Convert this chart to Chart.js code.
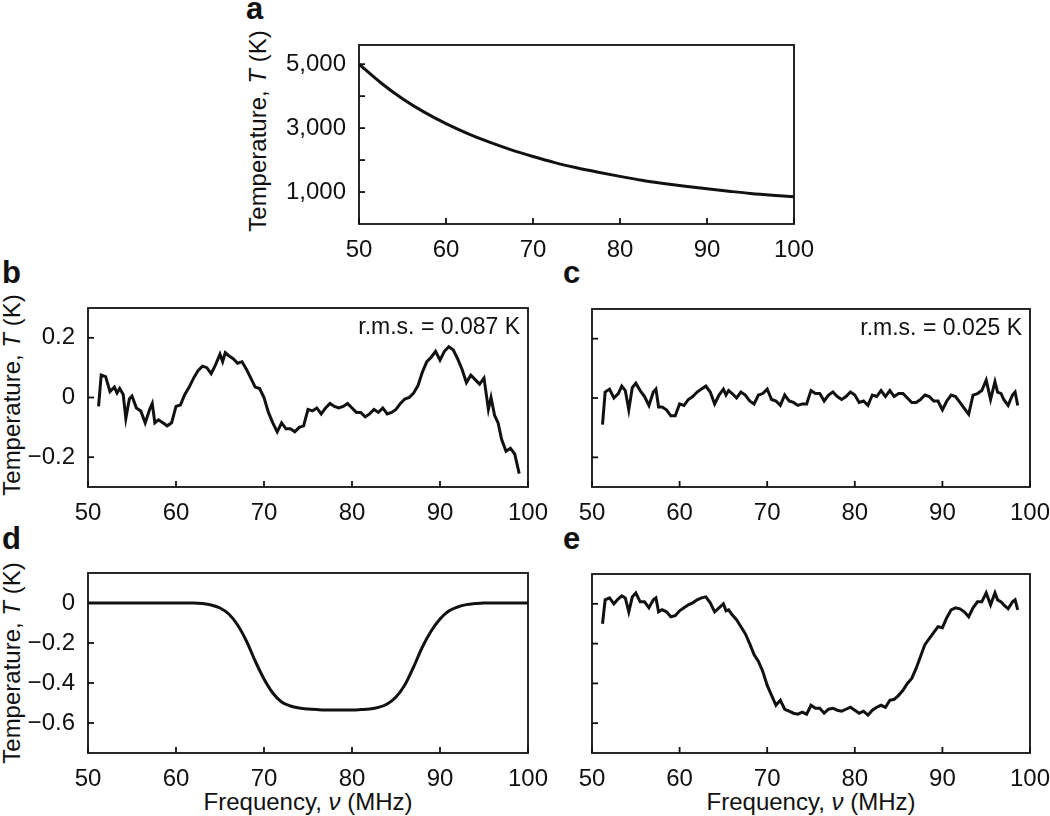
<!DOCTYPE html>
<html>
<head>
<meta charset="utf-8">
<script src="https://cdn.jsdelivr.net/npm/chart.js@4.4.1/dist/chart.umd.min.js"></script>
<style>
  body { margin: 0; background: #fff; width: 1050px; height: 816px; position: relative; overflow: hidden;
         font-family: "Liberation Sans", Arial, sans-serif; color: #111; }
  .box { position: absolute; }
  .letter { position: absolute; font-weight: bold; font-size: 31px; }
  .ytitle { position: absolute; font-size: 24px; line-height: 28px; height: 28px; width: 220px; text-align: center;
            white-space: nowrap; transform: rotate(-90deg); transform-origin: center; }
  .xtitle { position: absolute; font-size: 24px; line-height: 28px; width: 300px; text-align: center; white-space: nowrap; }
</style>
</head>
<body>
<div class="letter" style="left:246px;top:-9px;">a</div>
<div class="letter" style="left:2px;top:255px;">b</div>
<div class="letter" style="left:563px;top:255px;">c</div>
<div class="letter" style="left:2px;top:521px;">d</div>
<div class="letter" style="left:563px;top:521px;">e</div>

<div class="ytitle" style="left:148px;top:117px;">Temperature, <i>T</i> (K)</div>
<div class="ytitle" style="left:-98px;top:381px;">Temperature, <i>T</i> (K)</div>
<div class="ytitle" style="left:-98px;top:649px;">Temperature, <i>T</i> (K)</div>
<div class="xtitle" style="left:158px;top:788px;">Frequency, <i>ν</i> (MHz)</div>
<div class="xtitle" style="left:661px;top:788px;">Frequency, <i>ν</i> (MHz)</div>

<div class="box" style="left:230px;top:0px;width:600px;height:260px;"><canvas id="chartA"></canvas></div>
<div class="box" style="left:0px;top:290px;width:560px;height:230px;"><canvas id="chartB"></canvas></div>
<div class="box" style="left:560px;top:290px;width:490px;height:230px;"><canvas id="chartC"></canvas></div>
<div class="box" style="left:0px;top:556px;width:560px;height:230px;"><canvas id="chartD"></canvas></div>
<div class="box" style="left:560px;top:556px;width:490px;height:230px;"><canvas id="chartE"></canvas></div>

<script>
// --- data ---
const freqA = [50, 52.5, 55, 57.5, 60, 62.5, 65, 67.5, 70, 72.5, 75, 77.5, 80, 82.5, 85, 87.5, 90, 92.5, 95, 97.5, 100];
const tempA = [5000, 4420, 3920, 3500, 3140, 2830, 2560, 2320, 2110, 1920, 1760, 1620, 1490, 1370, 1270, 1180, 1100, 1025, 955, 900, 855];

const freqB = [51.2,51.5,52,52.5,53,53.3,53.6,54,54.3,54.7,55,55.5,56,56.5,57,57.3,57.6,58,58.5,59,59.5,60,60.5,61,61.5,62,62.5,63,63.5,64,64.5,65,65.3,65.6,66,66.5,67,67.5,68,68.5,69,69.5,70,70.5,71,71.5,72,72.5,73,73.5,74,74.5,75,75.5,76,76.5,77,77.5,78,78.5,79,79.5,80,80.5,81,81.5,82,82.5,83,83.5,84,84.5,85,85.5,86,86.5,87,87.5,88,88.5,89,89.5,90,90.5,91,91.5,92,92.5,93,93.5,94,94.5,95,95.5,95.8,96.2,96.6,97,97.5,98,98.5,99];
const residB = [-0.03,0.075,0.07,0.02,0.035,0.015,0.03,0.01,-0.07,-0.005,0.005,-0.035,-0.045,-0.085,-0.04,-0.02,-0.085,-0.075,-0.085,-0.095,-0.085,-0.03,-0.025,0.01,0.035,0.065,0.09,0.105,0.1,0.08,0.11,0.145,0.12,0.15,0.14,0.13,0.115,0.12,0.095,0.065,0.035,0.03,0,-0.05,-0.085,-0.115,-0.085,-0.105,-0.105,-0.115,-0.1,-0.095,-0.04,-0.045,-0.035,-0.055,-0.035,-0.02,-0.03,-0.035,-0.03,-0.02,-0.035,-0.05,-0.05,-0.065,-0.055,-0.04,-0.05,-0.035,-0.055,-0.05,-0.04,-0.02,-0.005,0,0.015,0.04,0.085,0.12,0.135,0.155,0.125,0.155,0.17,0.16,0.13,0.095,0.05,0.075,0.06,0.045,0.065,-0.04,0,-0.06,-0.085,-0.14,-0.18,-0.17,-0.19,-0.255];

const freqCE = [51.2,51.5,52,52.5,53,53.4,53.8,54.2,54.6,55,55.5,56,56.5,57,57.3,57.6,58,58.5,59,59.5,60,60.5,61,61.5,62,62.5,63,63.5,64,64.5,65,65.3,65.6,66,66.5,67,67.5,68,68.5,69,69.5,70,70.5,71,71.5,72,72.5,73,73.5,74,74.5,75,75.5,76,76.5,77,77.5,78,78.5,79,79.5,80,80.5,81,81.5,82,82.5,83,83.5,84,84.5,85,85.5,86,86.5,87,87.5,88,88.5,89,89.5,90,90.5,91,91.5,92,92.5,93,93.5,94,94.5,95,95.5,96,96.3,96.7,97,97.5,98,98.3,98.6];
const residC = [-0.09,0.02,0.03,0,0.015,0.04,0.025,-0.04,0.035,0.05,0.025,0.005,-0.025,0.02,0.03,-0.03,-0.03,-0.04,-0.06,-0.06,-0.02,-0.025,-0.005,0.005,0.02,0.03,0.04,0.02,-0.02,0.01,0.03,0.01,0.025,0.015,0,0.02,0.01,-0.01,-0.02,0.01,0.015,0.03,-0.005,-0.01,-0.025,0.01,-0.01,-0.015,-0.025,-0.02,-0.02,0.025,0.015,0.015,-0.01,0.01,0.02,0.005,-0.005,0.005,0.02,0.01,-0.015,-0.01,-0.025,0.01,0.005,0.025,0.005,0.025,0.005,0.015,0.015,0,-0.015,-0.015,-0.005,0.01,0.005,-0.01,-0.01,-0.04,-0.01,0.01,0.005,-0.015,-0.035,-0.055,0.01,0.015,0.025,0.06,-0.005,0.055,0.02,0.015,-0.005,-0.025,0.01,0.02,-0.025];
const residE = [-0.1,0.02,0.03,0,0.025,0.04,0.03,-0.04,0.035,0.055,0.01,0.01,-0.02,0.02,0.03,-0.04,-0.03,-0.04,-0.065,-0.06,-0.035,-0.02,-0.005,0.005,0.02,0.03,0.035,0.005,-0.04,-0.02,0,-0.035,-0.03,-0.055,-0.08,-0.115,-0.15,-0.2,-0.255,-0.29,-0.34,-0.41,-0.46,-0.51,-0.485,-0.53,-0.54,-0.55,-0.555,-0.545,-0.555,-0.51,-0.525,-0.525,-0.55,-0.53,-0.525,-0.535,-0.54,-0.53,-0.52,-0.535,-0.55,-0.54,-0.56,-0.535,-0.52,-0.51,-0.52,-0.485,-0.48,-0.46,-0.435,-0.4,-0.375,-0.325,-0.265,-0.205,-0.175,-0.145,-0.115,-0.12,-0.07,-0.03,-0.02,-0.025,-0.04,-0.065,-0.02,0.01,0.01,0.055,-0.005,0.055,0.02,0.01,-0.005,-0.025,0.01,0.02,-0.03];

const freqD = [50,52,54,56,58,60,62,63,64,65,66,67,68,69,70,71,72,73,74,75,76,77,78,79,80,81,82,83,84,85,86,87,88,89,90,91,92,93,94,95,96,98,100];
const modelD = [0,0,0,0,0,0,0,-0.003,-0.01,-0.025,-0.055,-0.11,-0.19,-0.29,-0.38,-0.45,-0.495,-0.515,-0.525,-0.53,-0.533,-0.535,-0.535,-0.535,-0.535,-0.533,-0.53,-0.522,-0.505,-0.47,-0.41,-0.32,-0.22,-0.14,-0.08,-0.04,-0.02,-0.008,-0.003,0,0,0,0];

const xTicks = [50, 60, 70, 80, 90, 100];
const tickFont = { size: 24, family: '"Liberation Sans", Arial, sans-serif' };

// --- box frame + inward ticks + rms label ---
const framePlugin = {
  id: 'frame',
  afterDraw(chart) {
    const ctx = chart.ctx, a = chart.chartArea;
    ctx.save();
    ctx.strokeStyle = '#111';
    ctx.lineWidth = 1.8;
    ctx.strokeRect(a.left, a.top, a.right - a.left, a.bottom - a.top);
    const xs = chart.scales.x, ys = chart.scales.y;
    xs.ticks.forEach(t => {
      const px = xs.getPixelForValue(t.value);
      ctx.beginPath(); ctx.moveTo(px, a.bottom); ctx.lineTo(px, a.bottom - 6); ctx.stroke();
    });
    ys.ticks.forEach(t => {
      const py = ys.getPixelForValue(t.value);
      ctx.beginPath(); ctx.moveTo(a.left, py); ctx.lineTo(a.left + 6, py); ctx.stroke();
    });
    const rms = chart.options.plugins.frame && chart.options.plugins.frame.rms;
    if (rms) {
      ctx.fillStyle = '#111';
      ctx.font = '23px "Liberation Sans", Arial, sans-serif';
      ctx.textAlign = 'right';
      ctx.textBaseline = 'top';
      ctx.fillText(rms, a.right - 8, a.top + 8);
    }
    ctx.restore();
  }
};

function makePanel(id, xs, ys, opts) {
  const pts = xs.map((x, i) => ({ x: x, y: ys[i] }));
  new Chart(document.getElementById(id), {
    type: 'line',
    data: { datasets: [{ data: pts, borderColor: '#111', borderWidth: 3, pointRadius: 0,
                         tension: opts.tension || 0, cubicInterpolationMode: opts.tension ? 'monotone' : 'default' }] },
    options: {
      responsive: true, maintainAspectRatio: false, animation: false,
      layout: { padding: { top: opts.top, right: opts.right, left: 0, bottom: 0 } },
      plugins: { legend: { display: false }, tooltip: { enabled: false }, frame: { rms: opts.rms } },
      scales: {
        x: {
          type: 'linear', min: 50, max: 100,
          afterBuildTicks: s => { s.ticks = xTicks.map(v => ({ value: v })); },
          grid: { display: false }, border: { display: false },
          ticks: { color: '#111', font: tickFont, padding: 4, maxRotation: 0, callback: v => String(v) },
          afterFit: s => { s.height = opts.xh; s.paddingLeft = 0; s.paddingRight = 0; }
        },
        y: {
          type: 'linear', min: opts.ymin, max: opts.ymax,
          afterBuildTicks: s => { s.ticks = opts.yticks.map(v => ({ value: v })); },
          grid: { display: false }, border: { display: false },
          ticks: { color: '#111', font: tickFont, padding: 5, callback: opts.ylabel },
          afterFit: s => { s.width = opts.yw; s.paddingTop = 0; s.paddingBottom = 0; }
        }
      }
    },
    plugins: [framePlugin]
  });
}

const fmtK = v => (v % 2000 === 1000) ? v.toLocaleString('en-US') : '';
const fmtRes = v => v === 0 ? '0' : (v < 0 ? '\u2212' + Math.abs(v).toFixed(1) : v.toFixed(1));
const noLabel = () => '';

makePanel('chartA', freqA, tempA, { top: 45, right: 36, xh: 36, yw: 129, ymin: 0, ymax: 5600,
  yticks: [1000, 2000, 3000, 4000, 5000], ylabel: fmtK, tension: 0.4 });
makePanel('chartB', freqB, residB, { top: 18, right: 32, xh: 33, yw: 88, ymin: -0.3, ymax: 0.3,
  yticks: [-0.2, 0, 0.2], ylabel: fmtRes, rms: 'r.m.s. = 0.087 K' });
makePanel('chartC', freqCE, residC, { top: 19, right: 20, xh: 33, yw: 32, ymin: -0.3, ymax: 0.3,
  yticks: [-0.2, 0, 0.2], ylabel: noLabel, rms: 'r.m.s. = 0.025 K' });
makePanel('chartD', freqD, modelD, { top: 17, right: 32, xh: 33, yw: 88, ymin: -0.75, ymax: 0.15,
  yticks: [-0.6, -0.4, -0.2, 0], ylabel: fmtRes, tension: 0.4 });
makePanel('chartE', freqCE, residE, { top: 18, right: 20, xh: 33, yw: 32, ymin: -0.75, ymax: 0.15,
  yticks: [-0.6, -0.4, -0.2, 0], ylabel: noLabel });
</script>
</body>
</html>
